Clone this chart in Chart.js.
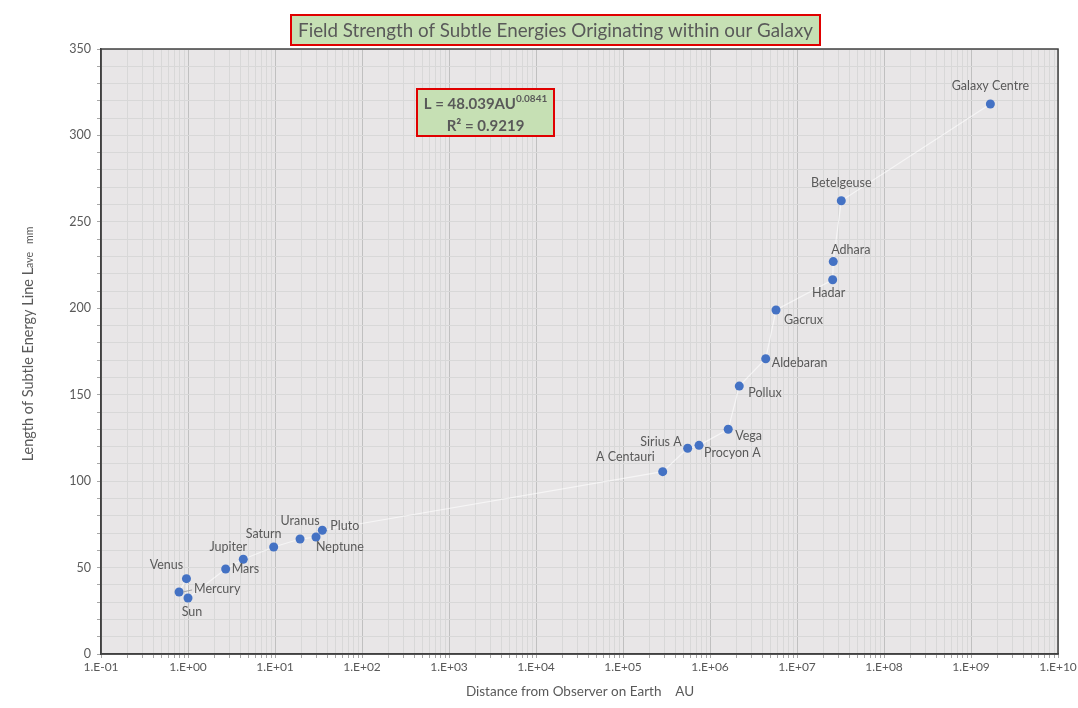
<!DOCTYPE html>
<html>
<head>
<meta charset="utf-8">
<script src="https://cdn.jsdelivr.net/npm/chart.js@4.4.0/dist/chart.umd.min.js"></script>
<style>
  html, body { margin: 0; padding: 0; background: #fff; }
  #wrap { width: 1078px; height: 708px; }
</style>
</head>
<body>
<div id="wrap"><canvas id="galaxyChart" width="1078" height="708"></canvas></div>
<script>
// data, ordered by distance
var bodyNames = ['Mercury', 'Venus', 'Sun', 'Mars', 'Jupiter', 'Saturn', 'Uranus', 'Neptune', 'Pluto',
  'A Centauri', 'Sirius A', 'Procyon A', 'Vega', 'Pollux', 'Aldebaran', 'Gacrux', 'Hadar', 'Adhara',
  'Betelgeuse', 'Galaxy Centre'];
var distanceAU = [0.79, 0.96, 1.0, 2.71, 4.32, 9.66, 19.4, 29.6, 35,
  2.86e5, 5.54e5, 7.48e5, 1.62e6, 2.17e6, 4.37e6, 5.74e6, 2.57e7, 2.61e7,
  3.23e7, 1.67e9];
var lineLength = [35.9, 43.6, 32.4, 49.2, 54.8, 61.9, 66.5, 67.7, 71.6,
  105.5, 119.0, 120.7, 130.0, 155.0, 170.8, 199.0, 216.5, 227.0,
  262.2, 318.2];

var xDecades = [-1, 0, 1, 2, 3, 4, 5, 6, 7, 8, 9, 10];
var yLabels = [0, 50, 100, 150, 200, 250, 300, 350];

var titleText = 'Field Strength of Subtle Energies Originating within our Galaxy';
var xTitle = 'Distance from Observer on Earth    AU';

// where each point label sits relative to its dot: [dx, dy, align]
var labelPlace = {
  'Mercury': [15, -3, 'left'], 'Venus': [-20, -14, 'center'], 'Sun': [4, 14, 'center'],
  'Mars': [6, 0, 'left'], 'Jupiter': [-15, -12, 'center'], 'Saturn': [-10, -13, 'center'],
  'Uranus': [0, -18, 'center'], 'Neptune': [0, 10, 'left'], 'Pluto': [8, -4, 'left'],
  'A Centauri': [-8, -15, 'right'], 'Sirius A': [-6, -6, 'right'], 'Procyon A': [5, 8, 'left'],
  'Vega': [7, 7, 'left'], 'Pollux': [9, 7, 'left'], 'Aldebaran': [6, 4, 'left'],
  'Gacrux': [8, 10, 'left'], 'Hadar': [-4, 13, 'center'], 'Adhara': [-2, -12, 'left'],
  'Betelgeuse': [0, -18, 'center'], 'Galaxy Centre': [0, -18, 'center']
};

var FONT = 'Lato, "Open Sans", sans-serif';
var GREY = '#595959';

var points = distanceAU.map(function (d, i) { return { x: d, y: lineLength[i] }; });

function isDecade(v) {
  var l = Math.log10(v);
  return Math.abs(l - Math.round(l)) < 1e-9;
}

function sciLabel(v) {
  var e = Math.round(Math.log10(v));
  return '1.E' + (e < 0 ? '-' : '+') + String(Math.abs(e)).padStart(2, '0');
}

var decorPlugin = {
  id: 'decor',
  beforeDraw: function (chart) {
    var c = chart.ctx, a = chart.chartArea;
    c.save();
    c.fillStyle = '#ffffff';
    c.fillRect(0, 0, chart.width, chart.height);
    c.fillStyle = '#e8e6e7';
    c.fillRect(a.left, a.top, a.right - a.left, a.bottom - a.top);
    c.restore();
  },
  afterDraw: function (chart) {
    var c = chart.ctx, a = chart.chartArea;
    var xs = chart.scales.x, ys = chart.scales.y;
    c.save();

    // plot frame
    c.strokeStyle = '#404040';
    c.lineWidth = 1.5;
    c.strokeRect(a.left, a.top, a.right - a.left, a.bottom - a.top);

    // point labels
    c.font = '12.5px ' + FONT;
    c.fillStyle = GREY;
    c.textBaseline = 'middle';
    bodyNames.forEach(function (n, i) {
      var px = xs.getPixelForValue(distanceAU[i]);
      var py = ys.getPixelForValue(lineLength[i]);
      var p = labelPlace[n];
      c.textAlign = p[2];
      c.fillText(n, px + p[0], py + p[1]);
      if (n === 'Mercury') {
        c.strokeStyle = '#a6a6a6';
        c.lineWidth = 1;
        c.beginPath();
        c.moveTo(px + 4, py);
        c.lineTo(px + 13, py - 2);
        c.stroke();
      }
    });

    // title box
    c.fillStyle = '#c6e0b4';
    c.fillRect(291, 15, 529, 30);
    c.strokeStyle = '#e00000';
    c.lineWidth = 2;
    c.strokeRect(291, 15, 529, 30);
    c.fillStyle = GREY;
    c.font = '18.8px ' + FONT;
    c.textAlign = 'center';
    c.textBaseline = 'middle';
    c.fillText(titleText, 555.5, 31);

    // equation box
    c.fillStyle = '#c6e0b4';
    c.fillRect(417, 89, 137, 47);
    c.strokeStyle = '#e00000';
    c.strokeRect(417, 89, 137, 47);
    c.fillStyle = GREY;
    c.textBaseline = 'alphabetic';
    c.textAlign = 'left';
    var l1 = 'L = 48.039AU';
    c.font = 'bold 15px ' + FONT;
    var w1 = c.measureText(l1).width;
    c.font = 'bold 10px ' + FONT;
    var w2 = c.measureText('0.0841').width;
    var sx = 485.5 - (w1 + w2) / 2;
    c.font = 'bold 15px ' + FONT;
    c.fillText(l1, sx, 109);
    c.font = 'bold 10px ' + FONT;
    c.fillText('0.0841', sx + w1, 102);
    c.font = 'bold 15px ' + FONT;
    c.textAlign = 'center';
    c.fillText('R\u00b2 = 0.9219', 485.5, 131);

    // x axis title
    c.font = '13.5px ' + FONT;
    c.fillStyle = GREY;
    c.textBaseline = 'middle';
    c.fillText(xTitle, 580, 692);

    // y axis title (rotated, with subscript)
    c.translate(28, 344);
    c.rotate(-Math.PI / 2);
    var partA = 'Length of Subtle Energy Line ';
    c.font = '14.5px ' + FONT;
    var wa = c.measureText(partA).width;
    var wl = c.measureText('L').width;
    c.font = '10.5px ' + FONT;
    var wb = c.measureText('ave').width;
    var wc = c.measureText('   mm').width;
    var x0 = -(wa + wl + wb + wc) / 2;
    c.textAlign = 'left';
    c.textBaseline = 'alphabetic';
    c.font = '14.5px ' + FONT;
    c.fillText(partA, x0, 5);
    c.fillText('L', x0 + wa, 5);
    c.font = '10.5px ' + FONT;
    c.fillText('ave', x0 + wa + wl, 5);
    c.fillText('   mm', x0 + wa + wl + wb, 5);
    c.restore();
  }
};

new Chart(document.getElementById('galaxyChart'), {
  type: 'scatter',
  data: {
    datasets: [{
      label: 'Lave',
      data: points,
      showLine: true,
      borderColor: 'rgba(255,255,255,0.6)',
      borderWidth: 1.2,
      pointRadius: 4.5,
      pointHoverRadius: 4.5,
      pointBackgroundColor: '#4472c4',
      pointBorderWidth: 0
    }]
  },
  options: {
    responsive: false,
    animation: false,
    events: [],
    layout: { padding: { top: 49, right: 20, left: 0, bottom: 0 } },
    plugins: { legend: { display: false }, tooltip: { enabled: false } },
    scales: {
      x: {
        type: 'logarithmic',
        min: 0.1,
        max: 1e10,
        afterBuildTicks: function (scale) {
          var t = [];
          xDecades.forEach(function (e) {
            for (var m = 1; m <= 9; m++) {
              if (e === 10 && m > 1) break;
              t.push({ value: m * Math.pow(10, e), major: m === 1 });
            }
          });
          scale.ticks = t;
        },
        afterFit: function (scale) {
          scale.height = 54;
          scale.paddingLeft = 0;
          scale.paddingRight = 0;
        },
        ticks: {
          autoSkip: false,
          maxRotation: 0,
          padding: 2,
          color: GREY,
          font: { family: FONT, size: 12 },
          callback: function (v) { return isDecade(v) ? sciLabel(v) : ''; }
        },
        grid: {
          color: function (ctx) { return ctx.tick && isDecade(ctx.tick.value) ? '#c0c0c0' : '#d8d8d8'; },
          lineWidth: 1,
          tickLength: 4,
          tickColor: '#a6a6a6'
        },
        border: { display: true, color: '#404040', width: 1.5 }
      },
      y: {
        min: 0,
        max: 350,
        afterFit: function (scale) { scale.width = 101; },
        ticks: {
          stepSize: 10,
          autoSkip: false,
          padding: 6,
          color: GREY,
          font: { family: FONT, size: 12.5 },
          callback: function (v) { return yLabels.indexOf(v) >= 0 ? String(v) : ''; }
        },
        grid: {
          color: '#d8d8d8',
          lineWidth: 1,
          tickLength: 4,
          tickColor: '#a6a6a6'
        },
        border: { display: true, color: '#404040', width: 1.5 }
      }
    }
  },
  plugins: [decorPlugin]
});
</script>
</body>
</html>
